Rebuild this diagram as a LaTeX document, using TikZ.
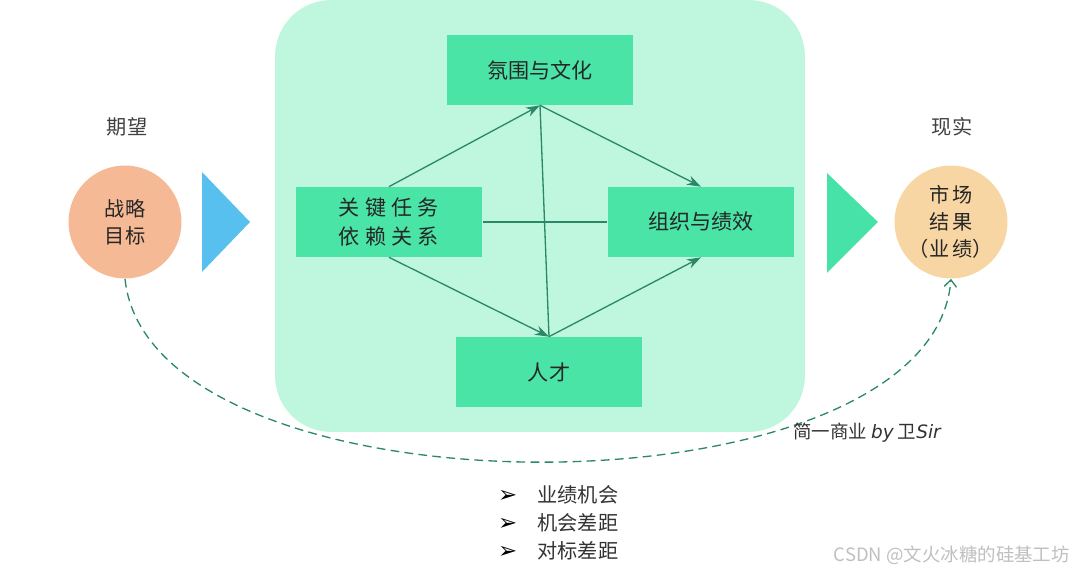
\documentclass[tikz,border=0pt]{standalone}
\usepackage{fontspec}
\setmainfont{Noto Sans CJK SC}
\newfontfamily\symfont{DejaVu Sans}
\usetikzlibrary{arrows.meta,positioning,backgrounds}
\definecolor{mintPale}{RGB}{190,246,222}
\definecolor{mintBox}{RGB}{74,228,166}
\definecolor{mintTri}{RGB}{70,226,168}
\definecolor{edgeGreen}{RGB}{42,136,104}
\definecolor{peachDark}{RGB}{245,185,150}
\definecolor{peachLight}{RGB}{248,214,163}
\definecolor{skyBlue}{RGB}{88,192,238}
\newcommand{\gapmark}{{\symfont\fontsize{13}{16}\selectfont\color{black}➢}}

\begin{document}
\begin{tikzpicture}[
    x=0.02cm, y=-0.02cm,
    font=\fontsize{12}{17}\selectfont\color{black!85},
    factor/.style={
        rectangle, fill=mintBox, minimum width=3.74cm, minimum height=1.4cm,
        inner sep=2pt, align=center
    },
    goal/.style={
        circle, minimum size=2.26cm, inner sep=0pt, align=center,
        font=\fontsize{11.5}{15.5}\selectfont\color{black!85}
    },
    side/.style={font=\fontsize{11.5}{14}\selectfont\color{black!75}},
    link/.style={-{Stealth[length=8pt,width=5.5pt]}, line width=0.75pt, draw=edgeGreen},
    plain/.style={line width=0.75pt, draw=edgeGreen}
]
    \useasboundingbox (0,0) rectangle (1080,573);

    % Central panel
    \node [fill=mintPale, rounded corners=32pt, minimum width=10.6cm, minimum height=8.64cm] (panel) at (540,216) {};

    % Four factor boxes
    \node [factor] (culture) at (540,70) {氛围与文化};
    \node [factor] (tasks) at (389,222) {关\hspace{3pt}键\hspace{3pt}任\hspace{3pt}务\\依\hspace{3pt}赖\hspace{3pt}关\hspace{3pt}系};
    \node [factor] (org) at (701,222) {组织与绩效};
    \node [factor] (talent) at (549,372) {人才};

    % Links between factors
    \draw [link] (tasks.north) -- (culture.south);
    \draw [link] (culture.south) -- (org.north);
    \draw [link] (tasks.south) -- (talent.north);
    \draw [link] (talent.north) -- (org.south);
    \draw [plain] (tasks.east) -- (org.west);
    \draw [plain] (culture.south) -- (talent.north);

    % Expectation side
    \node [side] (expect) at (127,127) {期望};
    \node [goal, fill=peachDark] (target) at (125,222) {战略\\目标};
    \fill [skyBlue] (202,172) -- (250,222) -- (202,272) -- cycle;

    % Reality side
    \node [side] (real) at (952,127) {现实};
    \node [goal, fill=peachLight] (result) at (951,222) {市\,场\\结\,果\\（业\,绩）};
    \fill [mintTri] (827,173) -- (878,222) -- (827,273) -- cycle;

    % Gap curve
    \draw [edgeGreen, line width=0.75pt, dash pattern=on 5pt off 3pt,
           -{Straight Barb[length=4pt,width=7pt]}]
        (target.south) .. controls (150,523) and (932,523) .. (result.south);

    % Signature
    \node [font=\fontsize{10.5}{12}\selectfont\color{black!80}] (sign) at (867,433)
        {简一商业 {\symfont\itshape by} 卫{\symfont\itshape Sir}};

    % Gap list
    \node [anchor=west, align=left, font=\fontsize{11.5}{16}\selectfont\color{black!80}] (gaps) at (492,523) {
        \gapmark\quad 业绩机会\\
        \gapmark\quad 机会差距\\
        \gapmark\quad 对标差距
    };

    % Watermark
    \node [anchor=east, font=\fontsize{10.5}{12}\selectfont\color{black!25}] (mark) at (1076,555) {CSDN @文火冰糖的硅基工坊};

\end{tikzpicture}
\end{document}
